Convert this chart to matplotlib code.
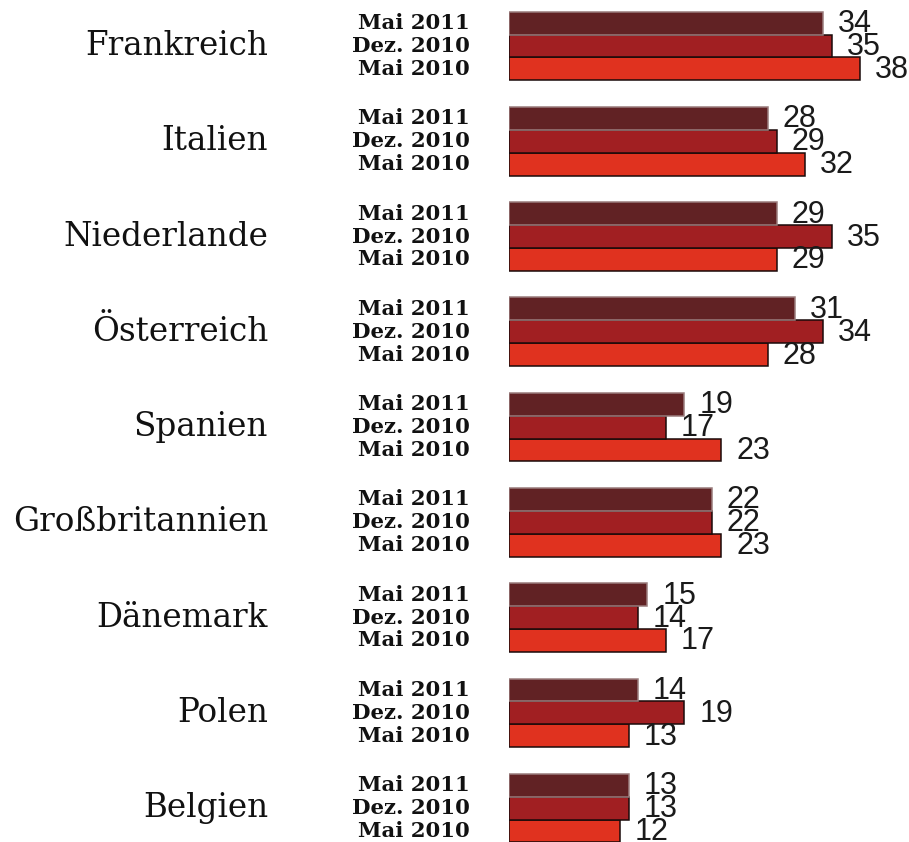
import matplotlib
matplotlib.use("Agg")
import matplotlib.pyplot as plt
import matplotlib.transforms as mtransforms

countries = ["Frankreich", "Italien", "Niederlande", "Österreich", "Spanien",
             "Großbritannien", "Dänemark", "Polen", "Belgien"]
periods = ["Mai 2011", "Dez. 2010", "Mai 2010"]
mai_2011 = [34, 28, 29, 31, 19, 22, 15, 14, 13]
dez_2010 = [35, 29, 35, 34, 17, 22, 14, 19, 13]
mai_2010 = [38, 32, 29, 28, 23, 23, 17, 13, 12]
series = [mai_2011, dez_2010, mai_2010]

colors = ["#612224", "#A11F22", "#E0321F"]
edges = ["#9a7c7c", "#1a0a0a", "#1a0a0a"]

W, H = 909, 842
fig = plt.figure(figsize=(W / 100, H / 100), dpi=100)
left_px = 508.5
ax = fig.add_axes([left_px / W, 0, (W - left_px) / W, 1])
px_per_unit = 9.25
ax.set_xlim(0, (W - left_px) / px_per_unit)
ax.set_ylim(35.76, -1.01)
ax.axis("off")

pitch = 4.16
lab_tr = mtransforms.blended_transform_factory(ax.transAxes, ax.transData)
for g, country in enumerate(countries):
    base = g * pitch
    for i, (vals, c, ec) in enumerate(zip(series, colors, edges)):
        y = base + i
        ax.barh(y, vals[g], height=1.0, color=c, edgecolor=ec, linewidth=1.1, zorder=2 + (2 - i) * 0.1)
        ax.annotate(str(vals[g]), xy=(vals[g], y), xytext=(15, -1),
                    textcoords="offset pixels", ha="left", va="center",
                    fontsize=22, family=["Liberation Sans Narrow", "Liberation Sans"],
                    color="#1a1a1a", zorder=5)
        ax.text((470 - left_px) / (W - left_px), y, periods[i], transform=lab_tr,
                ha="right", va="center", fontsize=15.3, fontweight="bold",
                family="DejaVu Serif", color="#111111")
    ax.text((268 - left_px) / (W - left_px), base + 1, country, transform=lab_tr,
            ha="right", va="center", fontsize=23.5, family="DejaVu Serif", color="#111111")

fig.savefig("out.png", dpi=100)
